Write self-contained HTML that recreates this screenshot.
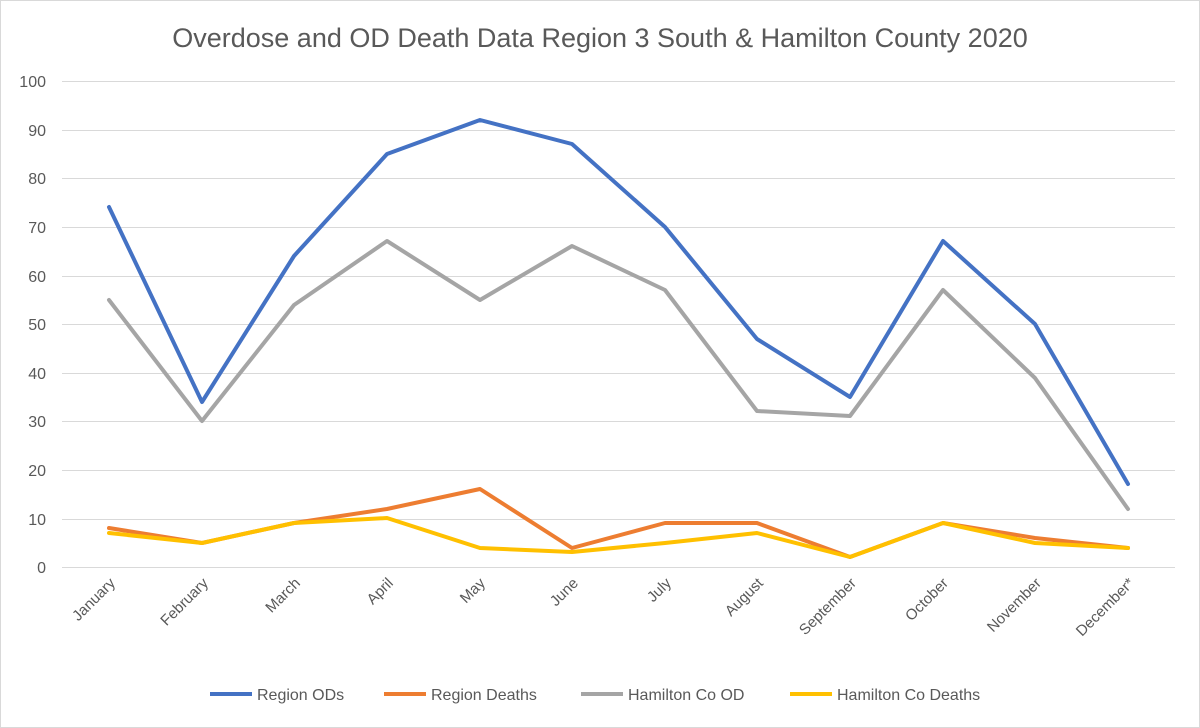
<!DOCTYPE html>
<html><head><meta charset="utf-8"><style>
body{margin:0;background:#fff;}
svg{display:block;font-family:"Liberation Sans",sans-serif;}
</style></head><body>
<svg width="1200" height="728" viewBox="0 0 1200 728" xmlns="http://www.w3.org/2000/svg">
<rect x="0.5" y="0.5" width="1199" height="727" fill="#fff" stroke="#d9d9d9"/>
<text x="600" y="47" text-anchor="middle" font-size="27" fill="#595959">Overdose and OD Death Data Region 3 South &amp; Hamilton County 2020</text>
<g stroke="#d9d9d9" stroke-width="1">
<line x1="62" x2="1175" y1="81.5" y2="81.5"/><line x1="62" x2="1175" y1="130.5" y2="130.5"/>
<line x1="62" x2="1175" y1="178.5" y2="178.5"/><line x1="62" x2="1175" y1="227.5" y2="227.5"/>
<line x1="62" x2="1175" y1="276.5" y2="276.5"/><line x1="62" x2="1175" y1="324.5" y2="324.5"/>
<line x1="62" x2="1175" y1="373.5" y2="373.5"/><line x1="62" x2="1175" y1="421.5" y2="421.5"/>
<line x1="62" x2="1175" y1="470.5" y2="470.5"/><line x1="62" x2="1175" y1="519.5" y2="519.5"/>
<line x1="62" x2="1175" y1="567.5" y2="567.5"/>
</g>
<g font-size="16" fill="#595959" text-anchor="end">
<text x="46" y="87">100</text><text x="46" y="136">90</text><text x="46" y="184">80</text>
<text x="46" y="233">70</text><text x="46" y="282">60</text><text x="46" y="330">50</text>
<text x="46" y="379">40</text><text x="46" y="427">30</text><text x="46" y="476">20</text>
<text x="46" y="525">10</text><text x="46" y="573">0</text>
</g>
<g font-size="15" fill="#595959" text-anchor="end">
<text transform="translate(116,584) rotate(-45)">January</text>
<text transform="translate(209,584) rotate(-45)">February</text>
<text transform="translate(301,584) rotate(-45)">March</text>
<text transform="translate(394,584) rotate(-45)">April</text>
<text transform="translate(486,584) rotate(-45)">May</text>
<text transform="translate(579,584) rotate(-45)">June</text>
<text transform="translate(672,584) rotate(-45)">July</text>
<text transform="translate(764,584) rotate(-45)">August</text>
<text transform="translate(857,584) rotate(-45)">September</text>
<text transform="translate(949,584) rotate(-45)">October</text>
<text transform="translate(1042,584) rotate(-45)">November</text>
<text transform="translate(1135,584) rotate(-45)">December*</text>
</g>
<g fill="none" stroke-width="4" stroke-linejoin="round" stroke-linecap="round">
<polyline stroke="#A5A5A5" points="109,300 202,421 294,305 387,241 480,300 572,246 665,290 757,411 850,416 943,290 1035,378 1128,509"/>
<polyline stroke="#4472C4" points="109,207 202,402 294,256 387,154 480,120 572,144 665,227 757,339 850,397 943,241 1035,324 1128,484"/>
<polyline stroke="#ED7D31" points="109,528 202,543 294,523 387,509 480,489 572,548 665,523 757,523 850,557 943,523 1035,538 1128,548"/>
<polyline stroke="#FFC000" points="109,533 202,543 294,523 387,518 480,548 572,552 665,543 757,533 850,557 943,523 1035,543 1128,548"/>
</g>
<g font-size="16" fill="#595959">
<line x1="210" x2="252" y1="694" y2="694" stroke="#4472C4" stroke-width="4"/><text x="257" y="700">Region ODs</text>
<line x1="384" x2="426" y1="694" y2="694" stroke="#ED7D31" stroke-width="4"/><text x="431" y="700">Region Deaths</text>
<line x1="581" x2="623" y1="694" y2="694" stroke="#A5A5A5" stroke-width="4"/><text x="628" y="700">Hamilton Co OD</text>
<line x1="790" x2="832" y1="694" y2="694" stroke="#FFC000" stroke-width="4"/><text x="837" y="700">Hamilton Co Deaths</text>
</g>
</svg>
</body></html>
